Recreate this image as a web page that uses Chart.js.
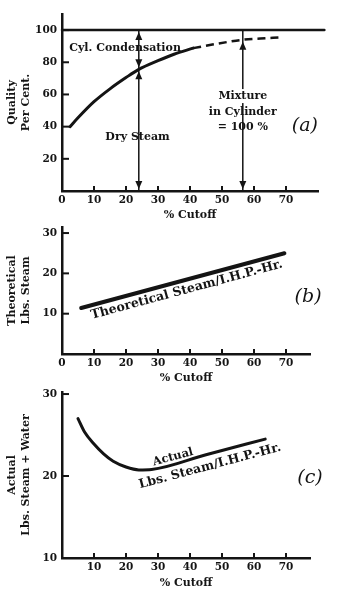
<!DOCTYPE html>
<html>
<head>
<meta charset="utf-8">
<script src="https://cdn.jsdelivr.net/npm/chart.js@4.4.0/dist/chart.umd.min.js"></script>
<style>
  html, body { margin: 0; padding: 0; background: #fff; }
  body { width: 338px; height: 591px; position: relative; overflow: hidden; }
  canvas { position: absolute; left: 0; }
</style>
</head>
<body>
<canvas id="chartA" width="338" height="224" style="top:0"></canvas>
<canvas id="chartB" width="338" height="162" style="top:224px"></canvas>
<canvas id="chartC" width="338" height="205" style="top:386px"></canvas>
<script>
// ===== Data =====
const X_TICKS = [0, 10, 20, 30, 40, 50, 60, 70];
const X_TICKS_C = [10, 20, 30, 40, 50, 60, 70];

// (a) quality of steam vs cutoff
const Y_TICKS_A = [20, 40, 60, 80, 100];
const CUTOFF_A = [2.5, 5, 10, 15, 20, 24, 30, 35, 41];
const QUALITY_A = [40, 45.5, 55.5, 63.5, 70.5, 75.6, 81, 85, 88.8];
const CUTOFF_A_DASH = [41, 47, 52, 56.5, 62, 68];
const QUALITY_A_DASH = [88.8, 91, 92.7, 94, 94.8, 95.4];
const LIMIT_A_X = [0, 82];
const LIMIT_A_Y = [100, 100];
const ARROW_X_A = [24, 56.5];

// (b) theoretical steam
const Y_TICKS_B = [10, 20, 30];
const CUTOFF_B = [6, 69.5];
const STEAM_B = [11.4, 25];

// (c) actual steam + water
const Y_TICKS_C = [10, 20, 30];
const CUTOFF_C = [5, 7, 10, 13, 16, 20, 24, 28, 45, 63.5];
const STEAM_C = [27.0, 25.4, 23.9, 22.7, 21.8, 21.1, 20.75, 20.8, 22.6, 24.5];

// ===== Style =====
const INK = '#141414';
const SERIF = "'DejaVu Serif', 'Liberation Serif', serif";

const pts = (xs, ys) => xs.map((x, i) => ({ x, y: ys[i] }));

// inward ticks, arrow heads and the lettering on the plots
const inkPlugin = {
  id: 'ink',
  afterDatasetsDraw(chart, args, opts) {
    const { ctx, scales: { x, y } } = chart;
    ctx.save();
    ctx.strokeStyle = INK;
    ctx.fillStyle = INK;
    ctx.lineWidth = 2;

    y.ticks.forEach(t => {
      if (t.value === y.min) return;
      const py = y.getPixelForValue(t.value);
      ctx.beginPath(); ctx.moveTo(x.left, py); ctx.lineTo(x.left + 7, py); ctx.stroke();
    });
    x.ticks.forEach(t => {
      if (t.value === x.min) return;
      const px = x.getPixelForValue(t.value);
      ctx.beginPath(); ctx.moveTo(px, y.bottom); ctx.lineTo(px, y.bottom - 5); ctx.stroke();
    });

    (opts.heads || []).forEach(h => {
      const px = x.getPixelForValue(h.x);
      const tip = y.getPixelForValue(h.y) + (h.up ? 2 : -2);
      const base = tip + (h.up ? 8 : -8);
      ctx.beginPath();
      ctx.moveTo(px, tip); ctx.lineTo(px - 3.5, base); ctx.lineTo(px + 3.5, base);
      ctx.closePath(); ctx.fill();
    });

    (opts.labels || []).forEach(l => {
      const px = x.getPixelForValue(l.x);
      const py = y.getPixelForValue(l.y);
      let angle = 0;
      if (l.along) {
        const [x1, y1, x2, y2] = l.along;
        angle = Math.atan2(y.getPixelForValue(y2) - y.getPixelForValue(y1),
                           x.getPixelForValue(x2) - x.getPixelForValue(x1));
      }
      ctx.save();
      ctx.translate(px, py);
      ctx.rotate(angle);
      ctx.font = `${l.italic ? 'italic ' : 'bold '}${l.size || 11}px ${SERIF}`;
      ctx.textAlign = 'center';
      ctx.textBaseline = 'middle';
      if (l.bg) {
        const w = ctx.measureText(l.text).width;
        ctx.fillStyle = '#fff';
        ctx.fillRect(-w / 2 - 1, -7, w + 2, 14);
        ctx.fillStyle = INK;
      }
      ctx.fillText(l.text, 0, 0);
      ctx.restore();
    });
    ctx.restore();
  }
};

function makeChart(id, cfg) {
  const tickFont = { family: SERIF, weight: 'bold', size: 10.5 };
  const titleFont = { family: SERIF, weight: 'bold', size: 11 };
  return new Chart(document.getElementById(id), {
    type: 'line',
    data: { datasets: cfg.datasets },
    options: {
      responsive: false,
      animation: false,
      layout: { padding: cfg.pad },
      elements: {
        point: { radius: 0 },
        line: { borderColor: INK, borderCapStyle: 'round', fill: false }
      },
      plugins: { legend: { display: false }, tooltip: { enabled: false }, ink: cfg.ink },
      scales: {
        x: {
          type: 'linear', min: 0, max: cfg.xMax,
          afterBuildTicks: s => { s.ticks = cfg.xTicks.map(v => ({ value: v })); },
          afterFit: s => { s.height = cfg.xHeight; s.paddingLeft = 0; s.paddingRight = 0; },
          grid: { display: false, drawTicks: false },
          border: { color: INK, width: 2.5 },
          ticks: { color: INK, padding: 3, maxRotation: 0, font: tickFont },
          title: { display: true, text: '% Cutoff', color: INK, font: titleFont,
                   padding: { top: 0, bottom: cfg.xTitlePad } }
        },
        y: {
          type: 'linear', min: cfg.yMin, max: cfg.yMax,
          afterBuildTicks: s => { s.ticks = cfg.yTicks.map(v => ({ value: v })); },
          afterFit: s => { s.width = 62; s.paddingTop = 0; s.paddingBottom = 0; },
          grid: { display: false, drawTicks: false },
          border: { color: INK, width: 2.5 },
          ticks: { color: INK, padding: 5, font: tickFont },
          title: { display: true, text: cfg.yTitle, color: INK, font: titleFont,
                   padding: { top: 6, bottom: 0 } }
        }
      }
    },
    plugins: [inkPlugin]
  });
}

// ===== (a) =====
const curveAt24 = QUALITY_A[CUTOFF_A.indexOf(ARROW_X_A[0])];
const dashAt56 = QUALITY_A_DASH[CUTOFF_A_DASH.indexOf(ARROW_X_A[1])];

makeChart('chartA', {
  pad: { top: 14, right: 20, left: 0, bottom: 0 },
  xMax: 80, xTicks: X_TICKS, xHeight: 33, xTitlePad: 2,
  yMin: 0, yMax: 110, yTicks: Y_TICKS_A,
  yTitle: ['Quality', 'Per Cent.'],
  datasets: [
    { data: pts(LIMIT_A_X, LIMIT_A_Y), borderWidth: 2.5, clip: 10 },
    { data: pts(CUTOFF_A, QUALITY_A), borderWidth: 3, cubicInterpolationMode: 'monotone' },
    { data: pts(CUTOFF_A_DASH, QUALITY_A_DASH), borderWidth: 2.5, borderDash: [8, 5],
      borderCapStyle: 'butt', cubicInterpolationMode: 'monotone' },
    ...ARROW_X_A.map(ax => ({ data: [{ x: ax, y: 100 }, { x: ax, y: 0 }], borderWidth: 1.5 }))
  ],
  ink: {
    heads: [
      { x: ARROW_X_A[0], y: 100, up: true },
      { x: ARROW_X_A[0], y: curveAt24, up: false },
      { x: ARROW_X_A[0], y: curveAt24, up: true },
      { x: ARROW_X_A[0], y: 0, up: false },
      { x: ARROW_X_A[1], y: dashAt56, up: true },
      { x: ARROW_X_A[1], y: 0, up: false }
    ],
    labels: [
      { text: 'Cyl. Condensation', x: 19.7, y: 88.9 },
      { text: 'Dry Steam', x: 23.6, y: 33.6 },
      { text: 'Mixture', x: 56.5, y: 59, bg: true },
      { text: 'in Cylinder', x: 56.5, y: 49.1 },
      { text: '= 100 %', x: 56.5, y: 39.8 },
      { text: '(a)', x: 75.9, y: 40.4, italic: true, size: 19 }
    ]
  }
});

// ===== (b) =====
makeChart('chartB', {
  pad: { top: 3, right: 28, left: 0, bottom: 0 },
  xMax: 77.5, xTicks: X_TICKS, xHeight: 32, xTitlePad: 1,
  yMin: 0, yMax: 31.5, yTicks: Y_TICKS_B,
  yTitle: ['Theoretical', 'Lbs. Steam'],
  datasets: [
    { data: pts(CUTOFF_B, STEAM_B), borderWidth: 4 }
  ],
  ink: {
    labels: [
      { text: 'Theoretical Steam/I.H.P.-Hr.', x: 39, y: 15.9, size: 12.5,
        along: [CUTOFF_B[0], STEAM_B[0], CUTOFF_B[1], STEAM_B[1]] },
      { text: '(b)', x: 76.9, y: 14.1, italic: true, size: 19 }
    ]
  }
});

// ===== (c) =====
const nC = CUTOFF_C.length;
makeChart('chartC', {
  pad: { top: 6, right: 28, left: 0, bottom: 0 },
  xMax: 77.5, xTicks: X_TICKS_C, xHeight: 33, xTitlePad: 1,
  yMin: 10, yMax: 30.25, yTicks: Y_TICKS_C,
  yTitle: ['Actual', 'Lbs. Steam + Water'],
  datasets: [
    { data: pts(CUTOFF_C, STEAM_C), borderWidth: 3, cubicInterpolationMode: 'monotone' }
  ],
  ink: {
    labels: [
      { text: 'Actual', x: 34.7, y: 22.3, size: 11.5,
        along: [CUTOFF_C[nC - 3], STEAM_C[nC - 3], CUTOFF_C[nC - 1], STEAM_C[nC - 1]] },
      { text: 'Lbs. Steam/I.H.P.-Hr.', x: 46.25, y: 21.2, size: 12.5,
        along: [CUTOFF_C[nC - 3], STEAM_C[nC - 3], CUTOFF_C[nC - 1], STEAM_C[nC - 1]] },
      { text: '(c)', x: 77.5, y: 19.75, italic: true, size: 19 }
    ]
  }
});
</script>
</body>
</html>
